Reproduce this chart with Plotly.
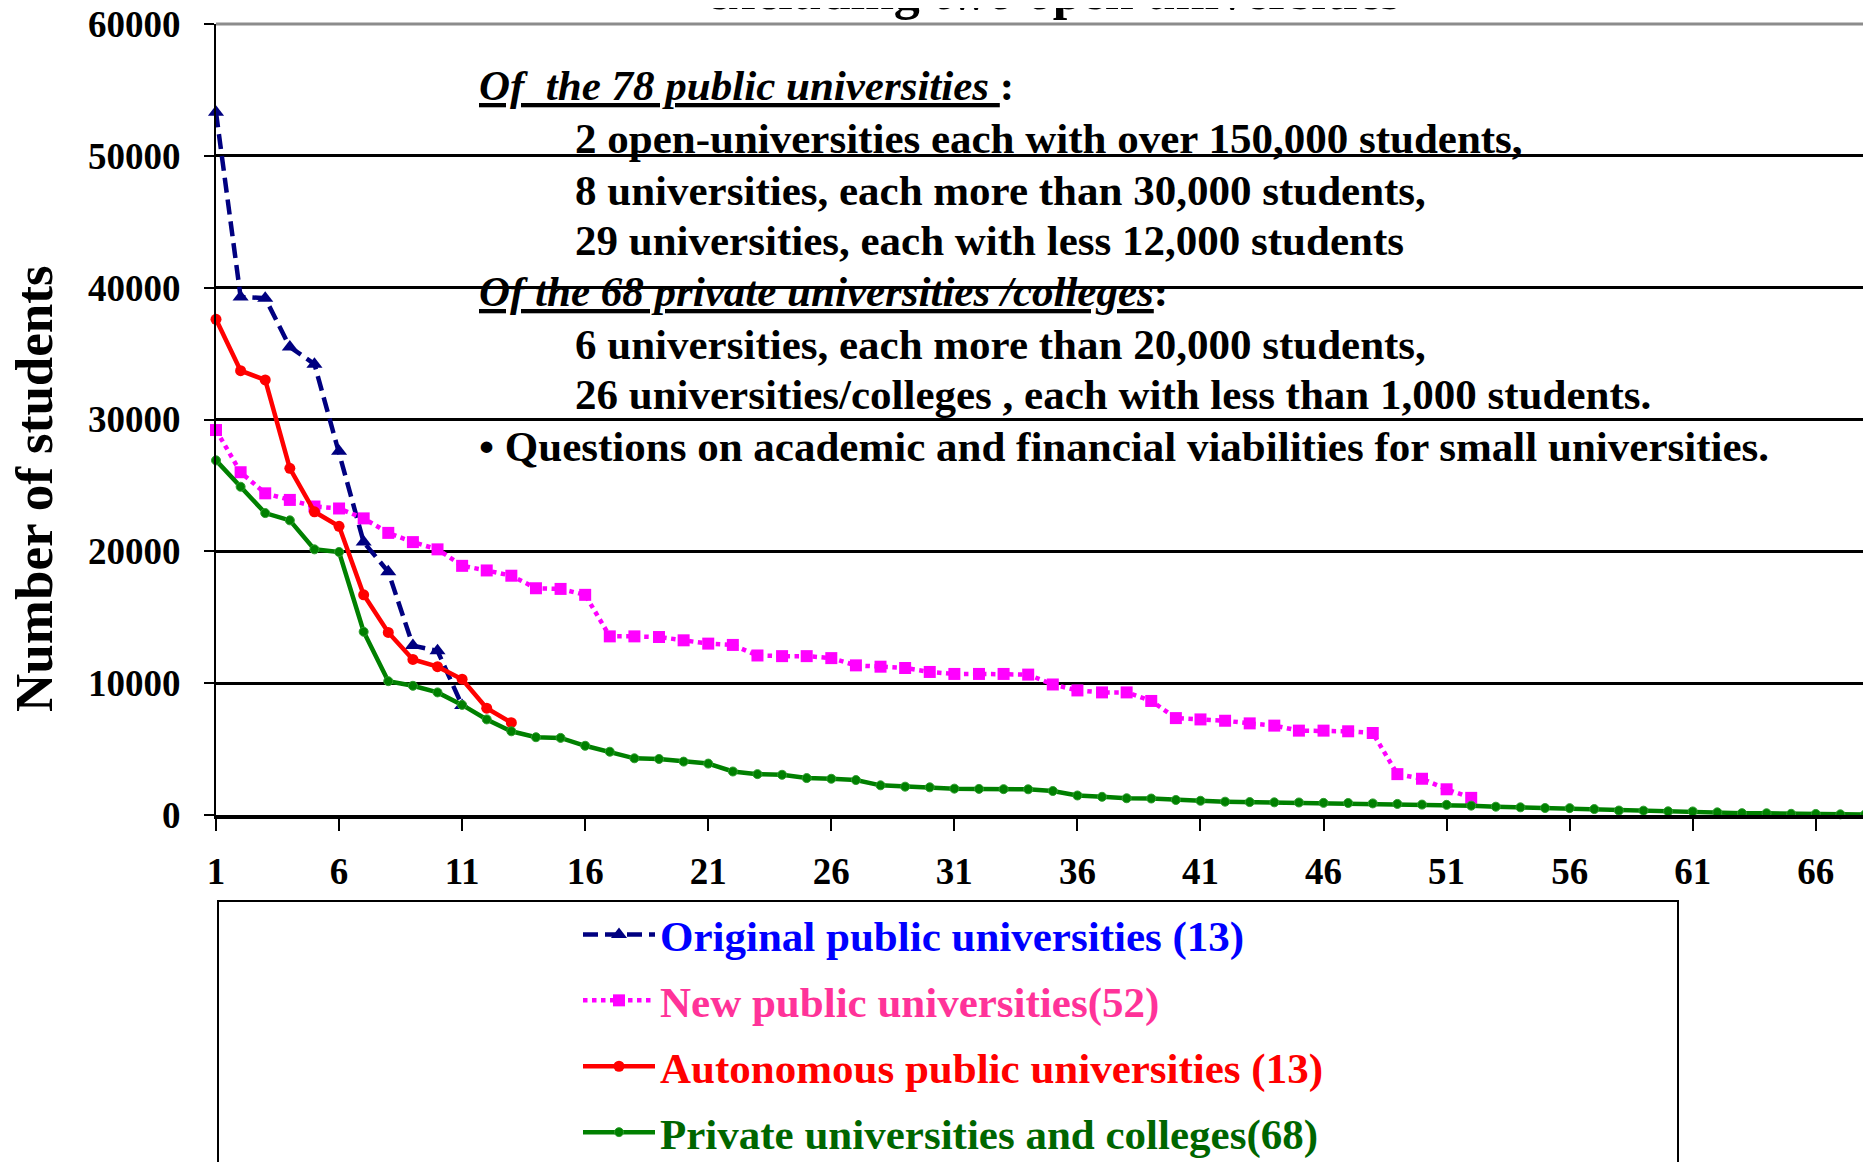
import plotly.graph_objects as go

# ---------------- data ----------------
original_public = [53300, 39300, 39200, 35500, 34200, 27600, 20700, 18450, 12850, 12450, 8300]
new_public = [29200, 26000, 24400, 23900, 23400, 23250, 22500, 21400, 20700, 20150,
              18900, 18550, 18150, 17200, 17150, 16700, 13550, 13550, 13500, 13250,
              13000, 12900, 12100, 12050, 12050, 11900, 11350, 11250, 11150, 10850,
              10700, 10700, 10700, 10650, 9900, 9450, 9300, 9300, 8650, 7350,
              7250, 7150, 6950, 6780, 6400, 6400, 6350, 6220, 3100, 2750,
              1950, 1300]
autonomous_public = [37600, 33700, 33000, 26300, 23000, 21900, 16700, 13850, 11800, 11250,
                     10300, 8100, 7000]
private_univ = [26900, 24900, 22900, 22350, 20150, 19950, 13900, 10150, 9800, 9300,
                8350, 7250, 6350, 5900, 5850, 5250, 4800, 4300, 4250, 4050,
                3900, 3300, 3100, 3050, 2800, 2750, 2650, 2250, 2150, 2100,
                2000, 1980, 1960, 1950, 1820, 1480, 1380, 1270, 1250, 1140,
                1080, 1010, 980, 960, 950, 920, 910, 880, 840, 790,
                770, 710, 630, 580, 530, 520, 450, 340, 330, 280,
                270, 200, 140, 130, 90, 80, 50, 30]

series_names = [
    '<span style="color:#0000FF">Original public universities (13)</span>',
    '<span style="color:#FF3399">New public universities(52)</span>',
    '<span style="color:#FF0000">Autonomous public universities (13)</span>',
    '<span style="color:#006600">Private universities and colleges(68)</span>',
]
x_tick_vals = list(range(1, 67, 5))
y_tick_vals = [0, 10000, 20000, 30000, 40000, 50000, 60000]

y_title = "Number of students"
title_text = "excluding two open universities"
note_lines = [
    ("<i><u>Of&nbsp;&nbsp;the 78 public universities </u></i>:", 0),
    ("2 open-universities each with over 150,000 students,", 1),
    ("8 universities, each more than 30,000 students,", 1),
    ("29 universities, each with less 12,000 students", 1),
    ("<i><u>Of the 68 private universities /colleges</u></i>:", 0),
    ("6 universities, each more than 20,000 students,", 1),
    ("26 universities/colleges , each with less than 1,000 students.", 1),
    ("• Questions on academic and financial viabilities for small universities.", 0),
]

FONT = "Liberation Serif"
# page is offset by the default 8px body margin
OFF = 8
W, H = 1871 - OFF, 1162 - OFF
ML, MT = 216 - OFF, 24 - OFF
MR = W - (1865 - OFF)
MB = H - (815 - OFF)
PW, PH = W - ML - MR, H - MT - MB


def px_x(px):
    """page pixel x -> paper coordinate"""
    return (px - OFF - ML) / PW


def px_y(py):
    """page pixel y -> paper coordinate"""
    return (H - MB - (py - OFF)) / PH


fig = go.Figure()

fig.add_trace(go.Scatter(
    x=list(range(1, len(original_public) + 1)), y=original_public, name=series_names[0],
    mode="lines+markers", cliponaxis=False, legendgroup="a",
    line=dict(color="#000080", width=4.5, dash="15px,7px"),
    marker=dict(symbol="triangle-up", size=14, color="#000080")))
fig.add_trace(go.Scatter(
    x=list(range(1, len(new_public) + 1)), y=new_public, name=series_names[1],
    mode="lines+markers", cliponaxis=False, legendgroup="b",
    line=dict(color="#FF00FF", width=4.5, dash="dot"),
    marker=dict(symbol="square", size=12, color="#FF00FF")))
fig.add_trace(go.Scatter(
    x=list(range(1, len(autonomous_public) + 1)), y=autonomous_public, name=series_names[2],
    mode="lines+markers", cliponaxis=False, legendgroup="c",
    line=dict(color="#FF0000", width=4.5),
    marker=dict(symbol="circle", size=11, color="#FF0000")))
fig.add_trace(go.Scatter(
    x=list(range(1, len(private_univ) + 1)), y=private_univ, name=series_names[3],
    mode="lines+markers", cliponaxis=False, legendgroup="d",
    line=dict(color="#008000", width=4.5),
    marker=dict(symbol="circle", size=9, color="#008000",
                line=dict(color="#2E9E2E", width=1))))

annotations = []
line_y = [86, 138, 190, 240, 292, 344, 394, 446]
for (txt, indent), py in zip(note_lines, line_y):
    annotations.append(dict(
        text=txt, xref="paper", yref="paper",
        x=px_x(573 if indent else 477), y=px_y(py),
        xanchor="left", yanchor="middle", showarrow=False,
        font=dict(family=FONT, size=43, color="black", weight="bold")))

# partially visible chart title at the very top
annotations.append(dict(
    text=title_text, xref="paper", yref="paper", x=px_x(1053), y=1 + 2 / PH,
    xanchor="center", yanchor="bottom", showarrow=False,
    font=dict(family=FONT, size=52, color="black", weight="bold")))

# y-axis title
annotations.append(dict(
    text=y_title, xref="paper", yref="paper", x=px_x(34), y=px_y(489),
    xanchor="center", yanchor="middle", textangle=-90, showarrow=False,
    font=dict(family=FONT, size=53, color="black", weight="bold")))

shapes = [
    # legend frame
    dict(type="rect", xref="paper", yref="paper",
         x0=px_x(218), x1=px_x(1678), y0=px_y(1200), y1=px_y(901),
         line=dict(color="black", width=2), fillcolor="white", layer="below"),
    # plot-area border (top and right) in grey
    dict(type="line", xref="paper", yref="paper", x0=0, x1=1, y0=1, y1=1,
         line=dict(color="#8C8C8C", width=3), layer="above"),
    dict(type="line", xref="paper", yref="paper", x0=1, x1=1, y0=0, y1=1,
         line=dict(color="#8C8C8C", width=2), layer="above"),
]

fig.update_layout(
    width=W, height=H,
    margin=dict(l=ML, r=MR, t=MT, b=MB, pad=0, autoexpand=False),
    paper_bgcolor="white", plot_bgcolor="white",
    font=dict(family=FONT, color="black"),
    showlegend=True,
    legend=dict(
        x=px_x(578), xanchor="left", y=px_y(900), yanchor="top",
        font=dict(family=FONT, size=43, weight="bold"),
        bgcolor="rgba(0,0,0,0)", borderwidth=0,
        traceorder="grouped", tracegroupgap=7, itemwidth=72),
    annotations=annotations,
    shapes=shapes,
    xaxis=dict(
        range=[1, 68], tickmode="array", tickvals=x_tick_vals,
        ticktext=[str(v) for v in x_tick_vals],
        showgrid=False, zeroline=False,
        showline=True, linecolor="black", linewidth=4,
        ticks="outside", ticklen=12, tickwidth=2, tickcolor="black",
        ticklabelstandoff=9, ticklabeloverflow="allow",
        tickfont=dict(family=FONT, size=37, color="black", weight="bold")),
    yaxis=dict(
        range=[0, 60000], tickmode="array", tickvals=y_tick_vals,
        ticktext=[str(v) for v in y_tick_vals],
        showgrid=True, gridcolor="black", gridwidth=3,
        zeroline=False,
        showline=True, linecolor="black", linewidth=2,
        ticks="outside", ticklen=10, tickwidth=2, tickcolor="black",
        ticklabelstandoff=16, ticklabeloverflow="allow",
        tickfont=dict(family=FONT, size=37, color="black", weight="bold")),
)

fig.write_html("out.html")
